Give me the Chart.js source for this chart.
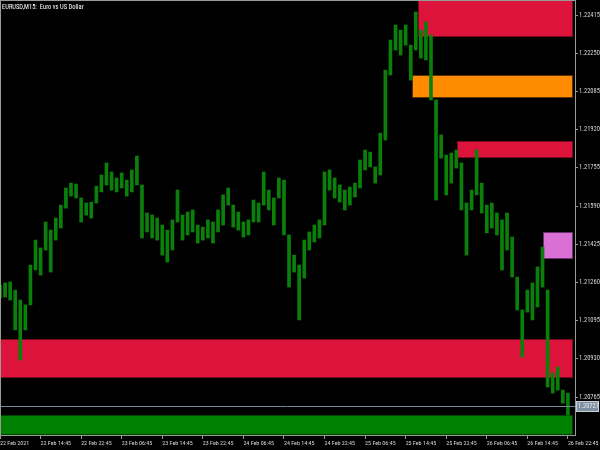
<!DOCTYPE html>
<html>
<head>
<meta charset="utf-8">
<script src="https://cdn.jsdelivr.net/npm/chart.js@4.4.1/dist/chart.umd.min.js"></script>
<style>
  html, body { margin: 0; padding: 0; background: #000; }
  .chart-container { width: 600px; height: 450px; }
</style>
</head>
<body>
<div class="chart-container"><canvas id="myChart" width="600" height="450"></canvas></div>
<script>
// one slot = 4 M15 bars, highs / lows
const highs = [
  1.21249, 1.21258, 1.21262, 1.21227, 1.21184, 1.21163, 1.21335, 1.21443, 1.21409, 1.21521,
  1.21486, 1.21538, 1.21594, 1.21668, 1.21689, 1.21685, 1.21625, 1.21603, 1.21607, 1.21676,
  1.21724, 1.21776, 1.21737, 1.21711, 1.21733, 1.21702, 1.21746, 1.21806, 1.21681, 1.21560,
  1.21551, 1.21538, 1.21508, 1.21486, 1.21530, 1.21659, 1.21551, 1.21564, 1.21573, 1.21508,
  1.21499, 1.21530, 1.21521, 1.21573, 1.21638, 1.21668, 1.21594, 1.21564, 1.21521, 1.21530,
  1.21616, 1.21603, 1.21737, 1.21659, 1.21625, 1.21711, 1.21702, 1.21465, 1.21378, 1.21335,
  1.21443, 1.21478, 1.21508, 1.21530, 1.21737, 1.21746, 1.21711, 1.21681, 1.21659, 1.21672,
  1.21689, 1.21789, 1.21832, 1.21823, 1.21759, 1.21905, 1.22177, 1.22307, 1.22372, 1.22350,
  1.22372, 1.22285, 1.22428, 1.22350, 1.22385, 1.22329, 1.22048, 1.21897, 1.21810, 1.21819,
  1.21832, 1.21776, 1.21603, 1.21659, 1.21832, 1.21689, 1.21594, 1.21603, 1.21560, 1.21530,
  1.21560, 1.21456, 1.21283, 1.21141, 1.21227, 1.21258, 1.21327, 1.21413, 1.21227, 1.20869,
  1.20895, 1.20795, 1.20782
];
const lows = [
  1.21193, 1.21197, 1.21184, 1.21055, 1.20925, 1.21055, 1.21163, 1.21314, 1.21292, 1.21400,
  1.21305, 1.21443, 1.21495, 1.21581, 1.21633, 1.21625, 1.21521, 1.21551, 1.21538, 1.21603,
  1.21651, 1.21681, 1.21659, 1.21651, 1.21668, 1.21633, 1.21651, 1.21681, 1.21452, 1.21478,
  1.21452, 1.21443, 1.21378, 1.21348, 1.21400, 1.21521, 1.21443, 1.21465, 1.21478, 1.21430,
  1.21443, 1.21452, 1.21430, 1.21478, 1.21508, 1.21594, 1.21499, 1.21486, 1.21456, 1.21465,
  1.21521, 1.21521, 1.21594, 1.21573, 1.21508, 1.21625, 1.21465, 1.21240, 1.21305, 1.21098,
  1.21279, 1.21400, 1.21435, 1.21452, 1.21508, 1.21659, 1.21625, 1.21607, 1.21573, 1.21594,
  1.21629, 1.21668, 1.21746, 1.21759, 1.21689, 1.21724, 1.21875, 1.22156, 1.22264, 1.22242,
  1.22285, 1.22134, 1.22264, 1.22229, 1.22221, 1.22048, 1.21616, 1.21797, 1.21638, 1.21689,
  1.21754, 1.21573, 1.21378, 1.21573, 1.21638, 1.21560, 1.21474, 1.21495, 1.21465, 1.21314,
  1.21400, 1.21283, 1.21141, 1.20938, 1.21132, 1.21098, 1.21154, 1.21240, 1.20808, 1.20782,
  1.20795, 1.20739, 1.20687
];
// time axis labels, one every 32 bars (8 slots)
const timeLabels = [
  '22 Feb 2021', '22 Feb 14:45', '22 Feb 22:45', '23 Feb 06:45', '23 Feb 14:45',
  '23 Feb 22:45', '24 Feb 06:45', '24 Feb 14:45', '24 Feb 22:45', '25 Feb 06:45',
  '25 Feb 14:45', '25 Feb 22:45', '26 Feb 06:45', '26 Feb 14:45', '26 Feb 22:45'
];
const priceTicks = [1.20765, 1.20930, 1.21095, 1.21260, 1.21425, 1.21590, 1.21755, 1.21920, 1.22085, 1.22250, 1.22415];
const lastPrice = 1.20727;

// supply / demand zones: starting slot, upper and lower price
const zoneStarts  = [82.4, 81.2, 90.1, 107.0, 0, 0];
const zoneTops    = [1.22480, 1.22156, 1.21871, 1.21478, 1.21015, 1.20687];
const zoneBottoms = [1.22320, 1.22056, 1.21797, 1.21361, 1.20847, 1.20601];
const zoneColors  = ['#dc143c', '#ff8c00', '#dc143c', '#da70d6', '#dc143c', '#008000'];
const zoneEdges   = ['#7a0a20', '#5a3200', '#7a0a20', '#6a3070', '#7a0a20', '#004000'];

const FONT = "'Roboto Condensed', 'DejaVu Sans Condensed', sans-serif";
const SLOT_MAX = 113.4;
const ZONE_END = 113.0;

const zonesPlugin = {
    id: 'zones',
    beforeDatasetsDraw(chart) {
        const { ctx, chartArea, scales: { x, y } } = chart;
        ctx.save();
        ctx.beginPath();
        ctx.rect(chartArea.left, chartArea.top, chartArea.width, chartArea.height);
        ctx.clip();
        zoneStarts.forEach((start, k) => {
            const left = Math.round(x.getPixelForValue(start));
            const right = Math.round(x.getPixelForValue(ZONE_END));
            const top = Math.round(y.getPixelForValue(zoneTops[k]));
            const bottom = Math.round(y.getPixelForValue(zoneBottoms[k]));
            ctx.fillStyle = zoneColors[k];
            ctx.fillRect(left, top, right - left, bottom - top);
            ctx.strokeStyle = zoneEdges[k];
            ctx.lineWidth = 1;
            ctx.strokeRect(left + 0.5, top + 0.5, right - left - 1, bottom - top - 1);
        });
        ctx.restore();
    },
    afterDatasetsDraw(chart) {
        const { ctx, chartArea, scales: { y } } = chart;
        const py = Math.round(y.getPixelForValue(lastPrice)) + 0.5;
        ctx.save();
        ctx.strokeStyle = '#778899';
        ctx.lineWidth = 1;
        ctx.beginPath();
        ctx.moveTo(chartArea.left, py);
        ctx.lineTo(chartArea.right, py);
        ctx.stroke();
        ctx.restore();
    },
    afterDraw(chart) {
        const { ctx, chartArea, scales: { y } } = chart;
        ctx.save();
        // frame
        ctx.strokeStyle = '#9a9a9a';
        ctx.lineWidth = 1;
        ctx.strokeRect(chartArea.left + 0.5, chartArea.top + 0.5, chartArea.width, chartArea.height);
        // symbol caption
        ctx.fillStyle = '#ffffff';
        ctx.font = '6.5px ' + FONT;
        ctx.textBaseline = 'middle';
        ctx.textAlign = 'left';
        ctx.fillText('EURUSD,M15:  Euro vs US Dollar', 2, 7);
        // last price tag
        const py = Math.round(y.getPixelForValue(lastPrice));
        ctx.fillStyle = '#7d8fa2';
        ctx.fillRect(chartArea.right + 1, py - 5, 23, 11);
        ctx.strokeStyle = '#c8d0d8';
        ctx.strokeRect(chartArea.right + 1.5, py - 4.5, 22, 10);
        ctx.fillStyle = '#e8eef4';
        ctx.font = '6.5px ' + FONT;
        ctx.fillText(lastPrice.toFixed(5), chartArea.right + 3, py + 0.5);
        ctx.restore();
    }
};

const ctx = document.getElementById('myChart').getContext('2d');
new Chart(ctx, {
    type: 'bar',
    data: {
        datasets: [{
            label: 'EURUSD',
            data: highs.map((h, i) => ({ x: i, y: [lows[i], h] })),
            backgroundColor: '#0a800a',
            borderWidth: 0,
            barThickness: 3,
            grouped: false
        }]
    },
    options: {
        responsive: false,
        animation: false,
        devicePixelRatio: 1,
        layout: { padding: 0 },
        plugins: {
            legend: { display: false },
            tooltip: { enabled: false }
        },
        scales: {
            x: {
                type: 'linear',
                offset: false,
                min: 0,
                max: SLOT_MAX,
                grid: { offset: false, drawOnChartArea: false, drawTicks: true, tickLength: 4, color: '#9a9a9a' },
                border: { display: false },
                afterBuildTicks: scale => {
                    scale.ticks = timeLabels.map((t, k) => ({ value: k * 8 }));
                },
                afterFit: scale => {
                    scale.height = 15;
                    scale.paddingLeft = 0;
                    scale.paddingRight = 0;
                },
                ticks: {
                    autoSkip: false,
                    maxRotation: 0,
                    align: 'start',
                    padding: 1,
                    color: '#d8d8d8',
                    font: { family: FONT, size: 6 },
                    callback: (value, index) => timeLabels[index]
                }
            },
            y: {
                position: 'right',
                min: 1.20601,
                max: 1.22480,
                grid: { drawOnChartArea: false, drawTicks: true, tickLength: 3, color: '#9a9a9a' },
                border: { display: false },
                afterBuildTicks: scale => {
                    scale.ticks = priceTicks.map(v => ({ value: v }));
                },
                afterFit: scale => {
                    scale.width = 25;
                    scale.paddingTop = 0;
                    scale.paddingBottom = 0;
                },
                ticks: {
                    padding: 1,
                    color: '#d8d8d8',
                    font: { family: FONT, size: 6.5 },
                    callback: value => value.toFixed(5)
                }
            }
        }
    },
    plugins: [zonesPlugin]
});
</script>
</body>
</html>
